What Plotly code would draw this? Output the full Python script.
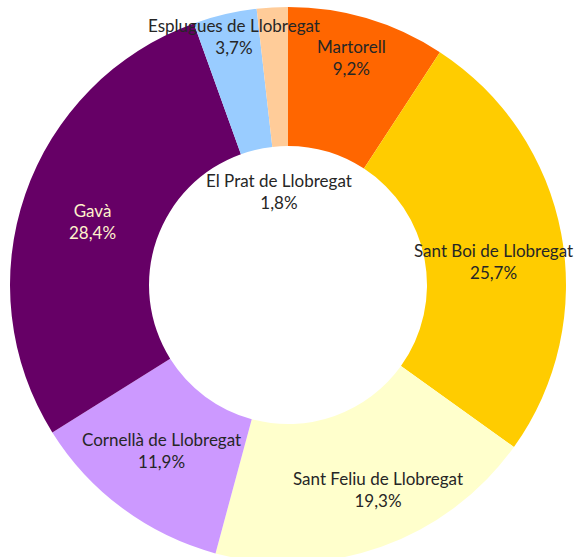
import math
import plotly.graph_objects as go

# Data
labels = ["Martorell", "Sant Boi de Llobregat", "Sant Feliu de Llobregat",
          "Cornellà de Llobregat", "Gavà", "Esplugues de Llobregat",
          "El Prat de Llobregat"]
values = [9.2, 25.7, 19.3, 11.9, 28.4, 3.7, 1.8]
colors = ["#FF6600", "#FFCC00", "#FFFFCC", "#CC99FF", "#660066", "#99CCFF", "#FFCC99"]
text_colors = ["#262626", "#262626", "#262626", "#262626", "#FFF2CC", "#262626", "#262626"]
# manual label targets (pixels) relative to ring midpoint, like moved Excel labels
nudges = [(5, -28), (3, 16), (21, 12), (-4, 2), (-1, 6), (-7, -46), (3, 114)]

W, H = 577, 563  # page viewport is 557 high; the ring bottom is clipped like the reference
dom_x = [10 / W, 566 / W]
dom_y = [0.0, 1 - 7 / H]

fig = go.Figure(go.Pie(
    labels=labels, values=values, sort=False, direction="clockwise", rotation=0,
    hole=0.5, marker=dict(colors=colors, line=dict(width=0)),
    textinfo="none", hoverinfo="label+percent", showlegend=False,
    domain=dict(x=dom_x, y=dom_y),
))

# geometry in pixels (derived from the pie domain)
dw = (dom_x[1] - dom_x[0]) * W
dh = (dom_y[1] - dom_y[0]) * H
R = min(dw, dh) / 2
cx = (dom_x[0] + dom_x[1]) / 2 * W
cy = H - (dom_y[0] + dom_y[1]) / 2 * H
rmid = 206
ox, oy = 288 - cx, 283 - cy  # reference centre used for label nudges

total = sum(values)
cum = 0
for lab, v, tc, (nx, ny) in zip(labels, values, text_colors, nudges):
    theta = math.radians((cum + v / 2) / total * 360)
    cum += v
    px = cx + ox + rmid * math.sin(theta) + nx
    py = cy + oy - rmid * math.cos(theta) + ny
    pct = f"{v:.1f}".replace(".", ",") + "%"
    fig.add_annotation(
        x=px / W, y=1 - py / H, xref="paper", yref="paper",
        text=f"{lab}<br>{pct}", showarrow=False, align="center",
        xanchor="center", yanchor="middle",
        font=dict(family="Lato, Open Sans, sans-serif", size=17, color=tc),
    )

fig.update_layout(
    width=W, height=H, margin=dict(l=0, r=0, t=0, b=0),
    paper_bgcolor="white", plot_bgcolor="white",
)
fig.write_html(
    "out.html",
    config={"displayModeBar": False},
    post_script="document.body.style.margin='0';document.body.style.overflow='hidden';",
)
